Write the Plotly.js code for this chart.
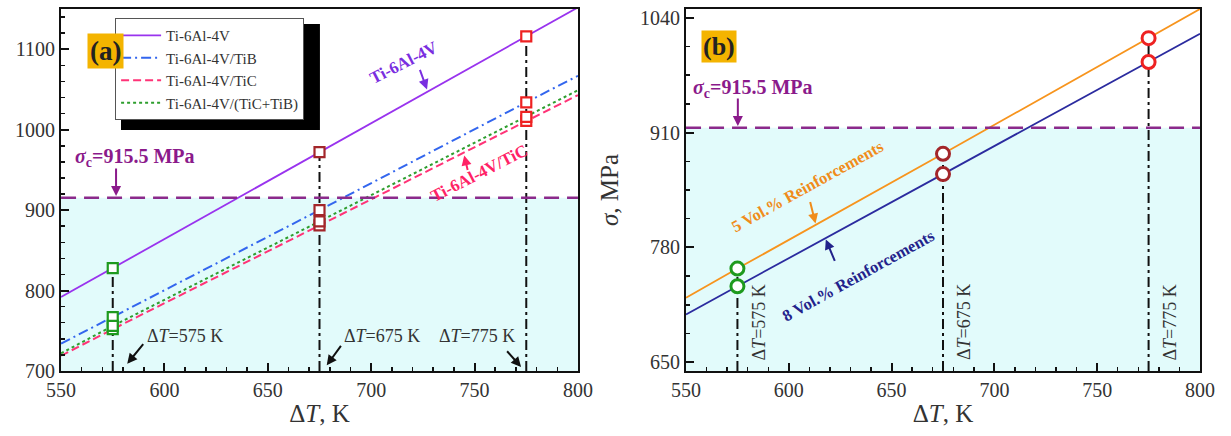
<!DOCTYPE html>
<html>
<head>
<meta charset="utf-8">
<script src="https://cdn.plot.ly/plotly-3.0.1.min.js"></script>
<style>
  html, body { margin: 0; padding: 0; background: #ffffff; }
  #chart { width: 1231px; height: 436px; }
</style>
</head>
<body>
<div id="chart"></div>
<script>
// Temperature difference (K) at which each curve is evaluated
const dT = [550, 575, 675, 775, 800];
const markedT = [575, 675, 775];

// (a) residual stress, MPa
const ti64 = [792, 828, 972, 1116, 1152];
const ti64TiB = [734, 767, 900, 1034, 1067];
const ti64TiC = [719, 752, 881, 1011, 1043];
const ti64Hybrid = [722, 756, 886, 1016, 1049];

// (b) residual stress, MPa
const vol5 = [723, 756, 886, 1017, 1050];
const vol8 = [704, 736, 863, 990, 1022];

// critical stress
const sigmaC = 915.5;

const seriesA = [
  { name: 'Ti-6Al-4V', y: ti64, color: '#9933ee', dash: 'solid', width: 1.8 },
  { name: 'Ti-6Al-4V/TiB', y: ti64TiB, color: '#3366ee', dash: '10px,4px,2px,4px', width: 2 },
  { name: 'Ti-6Al-4V/TiC', y: ti64TiC, color: '#ff3377', dash: '8px,4px', width: 2 },
  { name: 'Ti-6Al-4V/(TiC+TiB)', y: ti64Hybrid, color: '#2e9e2e', dash: '3px,3px', width: 2 }
];
const seriesB = [
  { name: '5 Vol.% Reinforcements', y: vol5, color: '#f7941d' },
  { name: '8 Vol.% Reinforcements', y: vol8, color: '#2b2b9f' }
];
const groupColors = ['#1e9a1e', '#a3262a', '#ee2222'];

const SERIF = 'Liberation Serif';
const yMinA = 700, yMaxA = 1150;
const yMinB = 640, yMaxB = 1050;

const traces = [];

// guide lines at the evaluated temperatures
markedT.forEach((t, k) => {
  const i = dT.indexOf(t);
  traces.push({ x: [t, t], y: [yMinA, ti64[i]], xaxis: 'x', yaxis: 'y', mode: 'lines',
    line: { color: '#111', width: 2, dash: '10px,4px,3px,4px' }, showlegend: false, hoverinfo: 'skip' });
  traces.push({ x: [t, t], y: [yMinB, vol5[i]], xaxis: 'x2', yaxis: 'y2', mode: 'lines',
    line: { color: '#111', width: 2, dash: '10px,4px,3px,4px' }, showlegend: false, hoverinfo: 'skip' });
});

// (a) curves
seriesA.forEach(s => {
  traces.push({ x: dT, y: s.y, xaxis: 'x', yaxis: 'y', mode: 'lines', name: s.name,
    line: { color: s.color, width: s.width, dash: s.dash } });
});

// (b) curves
seriesB.forEach(s => {
  traces.push({ x: dT, y: s.y, xaxis: 'x2', yaxis: 'y2', mode: 'lines', name: s.name,
    line: { color: s.color, width: 1.8 }, showlegend: false });
});

// markers at the evaluated temperatures
markedT.forEach((t, k) => {
  const i = dT.indexOf(t);
  const ya = seriesA.map(s => s.y[i]);
  traces.push({ x: ya.map(() => t), y: ya, xaxis: 'x', yaxis: 'y', mode: 'markers', showlegend: false,
    marker: { symbol: 'square', size: 10, color: '#ffffff', line: { color: groupColors[k], width: 2.2 } } });
  const yb = seriesB.map(s => s.y[i]);
  traces.push({ x: yb.map(() => t), y: yb, xaxis: 'x2', yaxis: 'y2', mode: 'markers', showlegend: false,
    marker: { symbol: 'circle', size: 13, color: '#ffffff', line: { color: groupColors[k], width: 3 } } });
});

function xAxis(domain) {
  return {
    domain: domain, range: [550, 800], dtick: 50, ticks: 'inside', ticklen: 8, tickwidth: 2,
    tickcolor: '#111', showline: true, linecolor: '#111', linewidth: 2, mirror: true,
    showgrid: false, zeroline: false, fixedrange: true,
    minor: { dtick: 10, ticks: 'inside', ticklen: 4, tickwidth: 1.5, tickcolor: '#111' },
    tickfont: { family: SERIF, size: 20, color: '#333' },
    title: { text: 'Δ<i>T</i>, K', font: { family: SERIF, size: 25, color: '#333' }, standoff: 4 }
  };
}
function yAxis(range, tick0, dtick, minorDtick, anchor) {
  return {
    anchor: anchor, range: range, tick0: tick0, dtick: dtick, ticks: 'inside', ticklen: 8, tickwidth: 2,
    tickcolor: '#111', showline: true, linecolor: '#111', linewidth: 2, mirror: true,
    showgrid: false, zeroline: false, fixedrange: true,
    minor: { tick0: tick0, dtick: minorDtick, ticks: 'inside', ticklen: 4, tickwidth: 1.5, tickcolor: '#111' },
    tickfont: { family: SERIF, size: 20, color: '#333' }
  };
}

const shapes = [
  // shaded region below the critical stress
  { type: 'rect', xref: 'x domain', yref: 'y', x0: 0, x1: 1, y0: yMinA, y1: sigmaC,
    fillcolor: '#e2fbfb', line: { width: 0 }, layer: 'below' },
  { type: 'rect', xref: 'x2 domain', yref: 'y2', x0: 0, x1: 1, y0: yMinB, y1: sigmaC,
    fillcolor: '#e2fbfb', line: { width: 0 }, layer: 'below' },
  // critical stress level
  { type: 'line', xref: 'x domain', yref: 'y', x0: 0, x1: 1, y0: sigmaC, y1: sigmaC,
    line: { color: '#8b2a8b', width: 2.5, dash: '15px,8px' }, layer: 'above' },
  { type: 'line', xref: 'x2 domain', yref: 'y2', x0: 0, x1: 1, y0: sigmaC, y1: sigmaC,
    line: { color: '#8b2a8b', width: 2.5, dash: '15px,8px' }, layer: 'above' },
  // legend drop shadow
  { type: 'rect', xref: 'paper', yref: 'paper', x0: 0.0983, x1: 0.2599, y0: 0.6657, y1: 0.9586,
    fillcolor: '#000000', line: { width: 0 }, layer: 'above' }
];

function arrow(xref, yref, x, y, ax, ay, color) {
  return { xref: xref, yref: yref, x: x, y: y, ax: ax, ay: ay, text: ' ', showarrow: true,
    arrowhead: 2, arrowsize: 1, arrowwidth: 2, arrowcolor: color, standoff: 0, startstandoff: 0,
    font: { family: SERIF, size: 2 } };
}
function label(xref, yref, x, y, text, size, color, angle) {
  return { xref: xref, yref: yref, x: x, y: y, text: text, showarrow: false, textangle: angle || 0,
    font: { family: SERIF, size: size, color: color } };
}

const sigmaText = '<b><i>σ</i><sub>c</sub>=915.5 MPa</b>';
const annotations = [
  // panel tags
  { xref: 'paper', yref: 'paper', x: 0.0707, y: 0.935, text: '<b>(a)</b>', showarrow: false,
    bgcolor: '#f4b400', borderpad: 2, font: { family: SERIF, size: 27, color: '#222' } },
  { xref: 'paper', yref: 'paper', x: 0.5837, y: 0.942, text: '<b>(b)</b>', showarrow: false,
    bgcolor: '#f4b400', borderpad: 1, font: { family: SERIF, size: 26, color: '#222' } },

  // (a)
  label('x', 'y', 586, 965, sigmaText, 20, '#8b1a8b'),
  arrow('x', 'y', 576.6, sigmaC + 2, 0, -30, '#8b1a8b'),
  label('x', 'y', 716, 1083, '<b>Ti-6Al-4V</b>', 17, '#7a2ee0', -27),
  arrow('x', 'y', 727, 1050, -8, -22, '#7a2ee0'),
  label('x', 'y', 752, 946, '<b>Ti-6Al-4V/TiC</b>', 17, '#ff2266', -27),
  arrow('x', 'y', 745, 968, 4, 17, '#ff2266'),
  label('x', 'y', 610, 743, 'Δ<i>T</i>=575 K', 18, '#333'),
  arrow('x', 'y', 582, 709, 18, -22, '#111'),
  label('x', 'y', 705, 743, 'Δ<i>T</i>=675 K', 18, '#333'),
  arrow('x', 'y', 678.5, 707, 16, -22, '#111'),
  label('x', 'y', 751, 743, 'Δ<i>T</i>=775 K', 18, '#333'),
  arrow('x', 'y', 772.5, 705, -16, -18, '#111'),

  // (b)
  label('x2', 'y2', 582.5, 960, sigmaText, 20, '#8b1a8b'),
  arrow('x2', 'y2', 575.2, sigmaC + 2, 0, -30, '#8b1a8b'),
  label('x2', 'y2', 609, 849, '<b>5 Vol.% Reinforcements</b>', 16.5, '#f08c1a', -29),
  arrow('x2', 'y2', 613, 807, -6, -24, '#f08c1a'),
  label('x2', 'y2', 634, 748, '<b>8 Vol.% Reinforcements</b>', 16.5, '#22228b', -29),
  arrow('x2', 'y2', 618, 789, 10, 24, '#22228b'),
  label('x2', 'y2', 585.5, 695, 'Δ<i>T</i>=575 K', 18, '#333', -90),
  label('x2', 'y2', 685.5, 695, 'Δ<i>T</i>=675 K', 18, '#333', -90),
  label('x2', 'y2', 785.5, 695, 'Δ<i>T</i>=775 K', 18, '#333', -90)
];

const yb = yAxis([yMinB, yMaxB], 650, 130, 32.5, 'x2');
yb.title = { text: '<i>σ</i>, MPa', font: { family: SERIF, size: 25, color: '#333' }, standoff: 14 };

const layout = {
  width: 1231, height: 436,
  margin: { l: 0, r: 0, t: 9, b: 65 },
  paper_bgcolor: '#ffffff', plot_bgcolor: '#ffffff',
  font: { family: SERIF, color: '#333' },
  xaxis: Object.assign(xAxis([0.0496, 0.4695]), { anchor: 'y' }),
  yaxis: yAxis([yMinA, yMaxA], 700, 100, 20, 'x'),
  xaxis2: Object.assign(xAxis([0.5573, 0.9748]), { anchor: 'y2' }),
  yaxis2: yb,
  showlegend: true,
  legend: {
    x: 0.0935, y: 0.975, xanchor: 'left', yanchor: 'top',
    bgcolor: '#ffffff', bordercolor: '#555', borderwidth: 1,
    font: { family: SERIF, size: 15, color: '#333' },
    itemwidth: 40, tracegroupgap: 0
  },
  shapes: shapes,
  annotations: annotations
};

Plotly.newPlot('chart', traces, layout, { displayModeBar: false, staticPlot: true });
</script>
</body>
</html>
